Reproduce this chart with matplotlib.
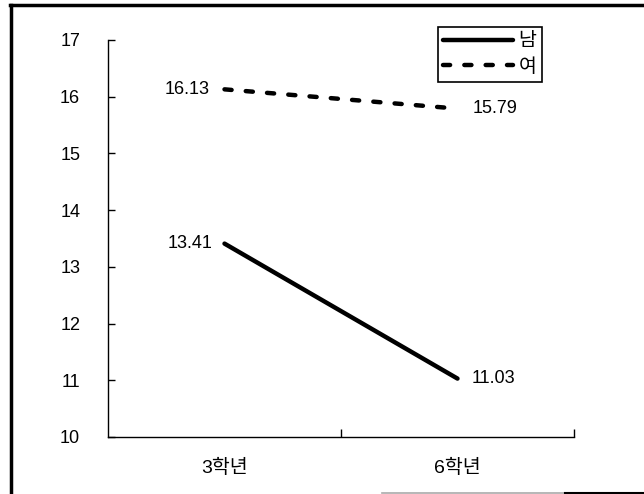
import matplotlib
matplotlib.use("Agg")
import matplotlib.pyplot as plt
from matplotlib.lines import Line2D

plt.rcParams['font.family'] = ['Liberation Sans', 'Noto Sans CJK KR', 'DejaVu Sans']

categories = ['3학년', '6학년']
male = [13.41, 11.03]
female = [16.13, 15.79]
series_names = ['남', '여']
yticks = [10, 11, 12, 13, 14, 15, 16, 17]

W, H = 644, 494
FS = 13
fig = plt.figure(figsize=(W / 100, H / 100), dpi=100)
ax = fig.add_axes([108 / W, 1 - 437 / H, (574 - 108) / W, (437 - 40) / H])

x = list(range(len(categories)))
ax.plot(x, male, color='black', lw=3.2, solid_capstyle='round', label=series_names[0])
ax.plot(x, female, color='black', lw=3.2, linestyle=(0, (1.6, 3.2)),
        dash_capstyle='round', label=series_names[1])

offsets_m = [(-12, 'right'), (14, 'left')]
offsets_f = [(-15, 'right'), (15, 'left')]
for xi, v in zip(x, male):
    dx, ha = offsets_m[xi]
    ax.annotate(f'{v:.2f}', (xi, v), xytext=(dx, 0), textcoords='offset pixels',
                ha=ha, va='center', fontsize=FS)
for xi, v in zip(x, female):
    dx, ha = offsets_f[xi]
    ax.annotate(f'{v:.2f}', (xi, v), xytext=(dx, 0), textcoords='offset pixels',
                ha=ha, va='center', fontsize=FS)

ax.set_xlim(-0.5, len(categories) - 0.5)
ax.set_ylim(10, 17)
ax.set_yticks(yticks)
ax.set_yticklabels([str(t) for t in yticks], fontsize=FS)
ax.set_xticks([i + 0.5 for i in range(len(categories))])
ax.set_xticklabels([])
ax.set_xticks(x, minor=True)
ax.set_xticklabels(categories, minor=True, fontsize=14)
ax.tick_params(axis='y', direction='in', length=5, width=1, pad=20)
ax.tick_params(axis='x', which='major', direction='in', length=6, width=1)
ax.tick_params(axis='x', which='minor', length=0, pad=16)
for s in ['top', 'right']:
    ax.spines[s].set_visible(False)
for s in ['left', 'bottom']:
    ax.spines[s].set_linewidth(1)

leg = ax.legend(loc='upper right', bbox_to_anchor=(542 / W, 1 - 27 / H),
                bbox_transform=fig.transFigure, borderaxespad=0, fontsize=14,
                frameon=True, fancybox=False, edgecolor='black', framealpha=1,
                handlelength=3.6, handletextpad=0.25, labelspacing=0.4,
                borderpad=0.3)
leg.get_frame().set_linewidth(1.2)

# outer frame
fig.add_artist(Line2D([10 / W, 1.0], [1 - 5 / H, 1 - 5 / H], color='black', lw=2.5,
                      transform=fig.transFigure))
fig.add_artist(Line2D([11 / W, 11 / W], [0, 1 - 5 / H], color='black', lw=2.5,
                      transform=fig.transFigure))
fig.add_artist(Line2D([382 / W, 565 / W], [1 - 493 / H, 1 - 493 / H], color='#aaaaaa',
                      lw=1.2, transform=fig.transFigure))
fig.add_artist(Line2D([565 / W, 1.0], [1 - 493 / H, 1 - 493 / H], color='black',
                      lw=1.5, transform=fig.transFigure))

fig.savefig('out.png', dpi=100)
